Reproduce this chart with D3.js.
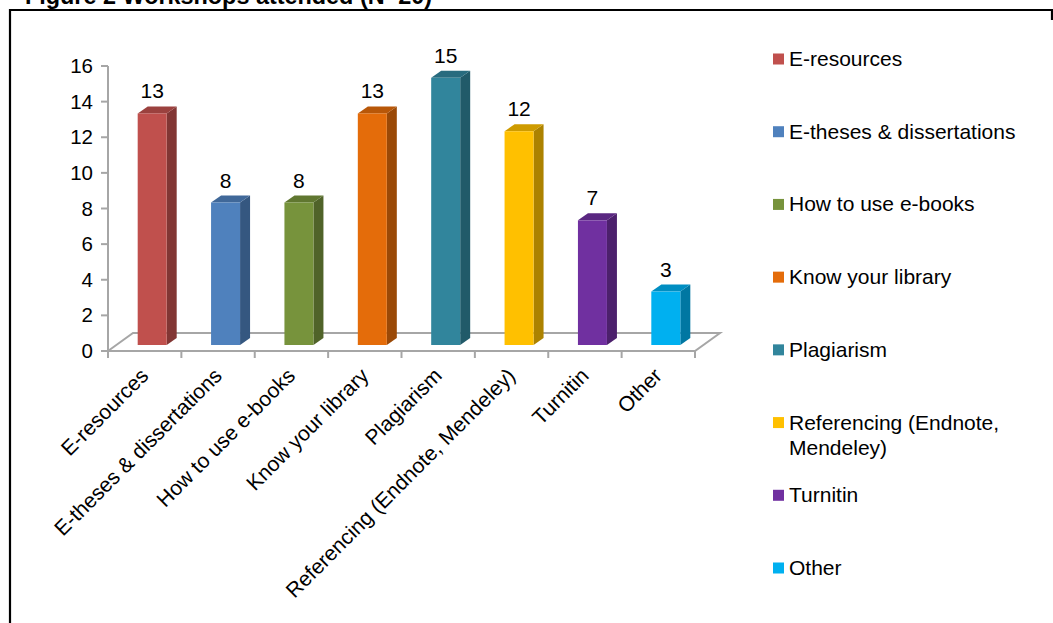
<!DOCTYPE html>
<html>
<head>
<meta charset="utf-8">
<script src="https://cdn.jsdelivr.net/npm/d3@7"></script>
<style>
  body { margin: 0; background: #fff; }
  svg { display: block; }
  text { font-family: "Liberation Sans", Arial, sans-serif; fill: #000; }
</style>
</head>
<body>
<svg id="chart" width="1053" height="623"></svg>
<script>
// Workshops attended, number of respondents per workshop
const categories = [
  "E-resources",
  "E-theses & dissertations",
  "How to use e-books",
  "Know your library",
  "Plagiarism",
  "Referencing (Endnote, Mendeley)",
  "Turnitin",
  "Other"
];
const values = [13, 8, 8, 13, 15, 12, 7, 3];
const colors = ["#C0504D", "#4F81BD", "#77933C", "#E46C0A", "#31859C", "#FFC000", "#7030A0", "#00B0F0"];
const yTicks = [0, 2, 4, 6, 8, 10, 12, 14, 16];
const titleText = "Figure 2 Workshops attended (N=20)";

const svg = d3.select("#chart");

// frame and title
svg.append("path")
  .attr("d", "M10,640 V10 H1052 V20")
  .attr("fill", "none").attr("stroke", "#000").attr("stroke-width", 2.2);
svg.append("text")
  .attr("x", 25).attr("y", 4)
  .attr("font-size", 23.4).attr("font-weight", "bold")
  .text(titleText);

// scales
const x = d3.scaleBand().domain(categories).range([108, 695]).padding(0);
const y = d3.scaleLinear().domain([0, 16]).range([351, 66]);
const color = d3.scaleOrdinal().domain(categories).range(colors);

// 3D geometry: floor depth and bar depth
const floorDx = 25, floorDy = -18;
const barW = 29, barDx = 10, barDy = -7;
const offX = 7.5, offY = -6;
const grey = "#A6A6A6";

// floor
const y0 = y(0), xL = x.range()[0], xR = x.range()[1];
svg.append("path")
  .attr("d", `M${xL},${y0} L${xL + floorDx},${y0 + floorDy} L${xR + floorDx},${y0 + floorDy} L${xR},${y0} Z`)
  .attr("fill", "none").attr("stroke", grey).attr("stroke-width", 2);

// category tick marks along the floor front edge
const bounds = categories.map(c => x(c)).concat([xR]);
svg.append("g").selectAll("line").data(bounds).join("line")
  .attr("x1", d => d).attr("x2", d => d)
  .attr("y1", y0).attr("y2", y0 + 7)
  .attr("stroke", grey).attr("stroke-width", 2);

// value axis
const yAxis = svg.append("g");
yAxis.append("line")
  .attr("x1", xL).attr("x2", xL).attr("y1", y(16)).attr("y2", y0)
  .attr("stroke", grey).attr("stroke-width", 2);
yAxis.selectAll("line.tick").data(yTicks).join("line").attr("class", "tick")
  .attr("x1", xL - 7).attr("x2", xL).attr("y1", d => y(d)).attr("y2", d => y(d))
  .attr("stroke", grey).attr("stroke-width", 2);
yAxis.selectAll("text").data(yTicks).join("text")
  .attr("x", 93).attr("y", d => y(d) + 7)
  .attr("text-anchor", "end").attr("font-size", 20.5)
  .text(d => d);

// bars
const bars = svg.append("g").selectAll("g").data(categories).join("g");
bars.each(function (c, i) {
  const g = d3.select(this);
  const v = values[i];
  const fx = x(c) + (x.bandwidth() - barW) / 2 + offX;
  const yt = y(v) + offY, yb = y0 + offY;
  const base = d3.color(color(c));
  g.append("path")
    .attr("d", `M${fx + barW},${yt} L${fx + barW + barDx},${yt + barDy} L${fx + barW + barDx},${yb + barDy} L${fx + barW},${yb} Z`)
    .attr("fill", base.darker(1.1));
  g.append("path")
    .attr("d", `M${fx},${yt} L${fx + barDx},${yt + barDy} L${fx + barW + barDx},${yt + barDy} L${fx + barW},${yt} Z`)
    .attr("fill", base.darker(0.6));
  g.append("rect")
    .attr("x", fx).attr("y", yt).attr("width", barW).attr("height", yb - yt)
    .attr("fill", base);
  g.append("text")
    .attr("x", fx + barW / 2).attr("y", yt - 15)
    .attr("text-anchor", "middle").attr("font-size", 21)
    .text(v);
});

// category labels
svg.append("g").selectAll("text").data(categories).join("text")
  .attr("transform", d => `translate(${x(d) + x.bandwidth() / 2 + 5},377) rotate(-45)`)
  .attr("text-anchor", "end").attr("font-size", 21)
  .text(d => d);

// legend
const legendY = d3.scalePoint().domain(categories).range([59, 568]);
const legend = svg.append("g").selectAll("g").data(categories).join("g");
legend.append("rect")
  .attr("x", 773).attr("y", d => legendY(d) - 5.5)
  .attr("width", 11).attr("height", 11)
  .attr("fill", d => color(d));
legend.each(function (d) {
  const g = d3.select(this);
  const t = g.append("text")
    .attr("transform", `translate(789,${legendY(d) + 7})`)
    .attr("font-size", 21);
  // wrap long labels
  const words = d.split(" ");
  let line = [], tspan = t.append("tspan").attr("x", 0).attr("dy", 0);
  words.forEach(w => {
    line.push(w);
    tspan.text(line.join(" "));
    if (tspan.node().getComputedTextLength() > 240 && line.length > 1) {
      line.pop();
      tspan.text(line.join(" "));
      line = [w];
      tspan = t.append("tspan").attr("x", 0).attr("dy", 25).text(w);
    }
  });
});
</script>
</body>
</html>
